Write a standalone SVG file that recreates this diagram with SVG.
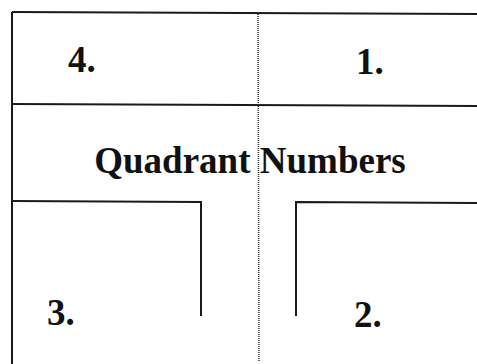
<svg xmlns="http://www.w3.org/2000/svg" width="477" height="364" viewBox="0 0 477 364">
<style>
.ln{stroke:#1a1a1a;stroke-width:2;fill:none}
.dot{stroke:#333;stroke-width:1.5;stroke-dasharray:1 1;fill:none}
.t{font-family:"Liberation Serif","Times New Roman",serif;font-weight:bold;fill:#111}
</style>
<rect width="477" height="364" fill="#fff"/>
<g id="lines">
<path class="ln" d="M12,12 L477,14"/>
<path class="ln" d="M12,12 L12,364"/>
<path class="ln" d="M12,104 L477,106"/>
<path class="ln" d="M12,201 L201,202 L201,316"/>
<path class="ln" d="M296,316 L296,202 L477,203"/>
<path class="dot" d="M258,12 L259,362"/>
</g>
<g id="labels">
<text class="t" x="68" y="72" font-size="37">4.</text>
<text class="t" x="356" y="74" font-size="37">1.</text>
<text class="t" x="250" y="173" font-size="37" text-anchor="middle">Quadrant Numbers</text>
<text class="t" x="47" y="325" font-size="37">3.</text>
<text class="t" x="354" y="327" font-size="37">2.</text>
</g>
</svg>
